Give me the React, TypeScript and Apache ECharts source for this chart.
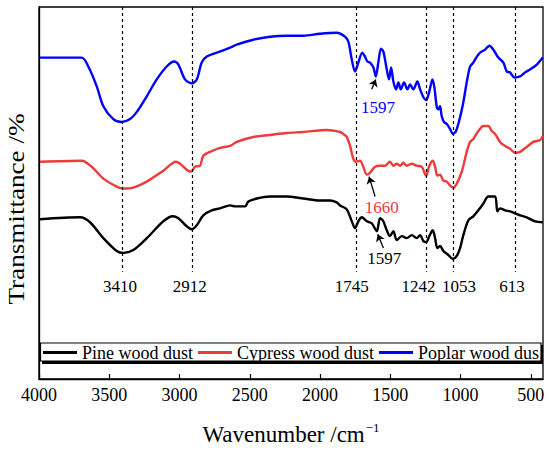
import React, { useEffect, useRef } from 'react';
import * as echarts from 'echarts';

const FONT = '"Liberation Serif", "Times New Roman", serif';

// x axis ticks (wavenumber, cm-1)
const tickValues = [4000, 3500, 3000, 2500, 2000, 1500, 1000, 500];
const seriesNames = ['Pine wood dust', 'Cypress wood dust', 'Poplar wood dust'];
const seriesColors = ['#000000', '#EE3B3B', '#0000FF'];

// Pine wood dust (black)
const pineWn = [3993, 3708, 3637, 3542, 3447, 3400, 3329, 3233, 3115, 3048, 3008, 2949, 2913, 2877, 2831, 2771, 2712, 2640, 2605, 2534, 2510, 2450, 2356, 2237, 2119, 2000, 1929, 1881, 1857, 1810, 1774, 1751, 1727, 1703, 1667, 1632, 1596, 1573, 1553, 1525, 1502, 1478, 1454, 1418, 1383, 1347, 1312, 1288, 1264, 1245, 1222, 1198, 1181, 1165, 1146, 1122, 1087, 1055, 1027, 1003, 980, 944, 909, 873, 837, 802, 754, 738, 719, 683, 647, 612, 576, 529, 470, 415];
const pineT = [161, 163, 158, 142, 129, 127, 130, 142, 159, 164, 162, 154, 151, 155, 165, 170, 172, 175, 174, 174, 179, 182, 184, 184, 182, 180, 180, 178, 175, 171, 159, 152, 159, 163, 159, 157, 149, 162, 160, 150, 144, 149, 140, 144, 142, 145, 142, 145, 139, 138, 144, 150, 142, 132, 134, 129, 125, 121, 124, 132, 145, 160, 164, 170, 177, 184, 184, 169, 172, 170, 169, 167, 165, 163, 159, 158];

// Cypress wood dust (red)
const cypressWn = [3993, 3696, 3625, 3542, 3447, 3400, 3329, 3233, 3115, 3025, 2996, 2949, 2918, 2890, 2854, 2831, 2783, 2712, 2640, 2593, 2475, 2356, 2237, 2119, 1952, 1857, 1834, 1810, 1786, 1763, 1744, 1715, 1692, 1667, 1644, 1608, 1573, 1537, 1502, 1478, 1454, 1430, 1407, 1383, 1347, 1312, 1276, 1245, 1222, 1198, 1181, 1165, 1146, 1122, 1098, 1074, 1051, 1027, 991, 956, 932, 909, 873, 837, 802, 778, 754, 719, 683, 647, 612, 576, 529, 482, 434, 415];
const cypressT = [219, 220, 214, 202, 194, 192, 193, 199, 210, 219, 217, 211, 209, 214, 215, 225, 229, 233, 235, 239, 244, 246, 248, 249, 251, 249, 247, 244, 235, 222, 219, 220, 214, 206, 208, 214, 215, 215, 219, 215, 217, 215, 218, 215, 217, 215, 214, 205, 215, 220, 214, 205, 206, 200, 199, 195, 193, 197, 209, 229, 239, 242, 250, 255, 255, 250, 247, 239, 235, 232, 228, 229, 234, 239, 241, 245];

// Poplar wood dust (blue)
const poplarWn = [3993, 3696, 3649, 3589, 3542, 3471, 3411, 3352, 3305, 3233, 3162, 3091, 3039, 3008, 2961, 2913, 2877, 2842, 2806, 2735, 2640, 2593, 2475, 2356, 2237, 2119, 2000, 1881, 1822, 1798, 1774, 1751, 1727, 1699, 1680, 1663, 1644, 1620, 1603, 1585, 1566, 1549, 1525, 1509, 1494, 1478, 1459, 1442, 1425, 1402, 1378, 1359, 1336, 1307, 1288, 1264, 1245, 1222, 1200, 1186, 1169, 1158, 1146, 1134, 1117, 1098, 1074, 1055, 1032, 1003, 980, 956, 932, 909, 884, 861, 825, 795, 766, 731, 695, 671, 647, 617, 576, 541, 505, 457, 415];
const poplarT = [324, 324, 315, 295, 275, 262, 259, 262, 269, 285, 302, 315, 320, 317, 302, 298, 302, 319, 325, 329, 334, 337, 342, 345, 346, 346, 348, 349, 345, 340, 322, 310, 319, 329, 325, 320, 319, 314, 305, 319, 333, 330, 312, 302, 314, 300, 292, 299, 292, 299, 292, 297, 292, 300, 292, 284, 281, 290, 302, 294, 274, 272, 275, 265, 259, 257, 252, 247, 250, 264, 279, 299, 315, 319, 325, 329, 332, 336, 332, 324, 319, 310, 309, 304, 305, 309, 312, 317, 324];

// Characteristic peaks (dashed guides)
const peakWn = [3410, 2912, 1745, 1242, 1053, 613];
const peakLabels = ['3410', '2912', '1745', '1242', '1053', '613'];
const peakLabelShift = [-2, -2, -4, -8, 6, -3];

// Arrow annotations: series index, label, label point, arrow tail, arrow head
const annotSeries = [2, 1, 0];
const annotText = ['1597', '1660', '1597'];
const annotTextAt = [[1587, 274], [1561, 173], [1542, 121]];
const annotTail = [[1632, 292], [1608, 184], [1549, 132]];
const annotHead = [[1603, 302], [1651, 204], [1589, 146]];

const Y_MIN = 0;
const Y_MAX = 375;
const GUIDE_END = 108;
const PEAK_LABEL_Y = 93;

const zip = (w: number[], t: number[]) => w.map((x, i) => [x, t[i]]);

export default function App() {
  const ref = useRef<HTMLDivElement>(null);

  useEffect(() => {
    document.body.style.margin = '0';
    if (!ref.current) return;
    const chart = echarts.init(ref.current, undefined, { renderer: 'svg' });

    const allData = [zip(pineWn, pineT), zip(cypressWn, cypressT), zip(poplarWn, poplarT)];

    const series = seriesNames.map((name, si) => {
      const mlData: any[] = [];
      const mpData: any[] = [];
      if (si === 0) {
        peakWn.forEach((w, i) => {
          mlData.push([
            { coord: [w, Y_MAX], symbol: 'none', lineStyle: { type: [3, 3], color: '#000', width: 1.2 } },
            { coord: [w, GUIDE_END], symbol: 'none' },
          ]);
          mpData.push({
            name: peakLabels[i],
            coord: [w, PEAK_LABEL_Y],
            label: { offset: [peakLabelShift[i], 0], color: '#000' },
          });
        });
      }
      annotSeries.forEach((s, i) => {
        if (s !== si) return;
        mlData.push([
          { coord: annotTail[i], symbol: 'none', lineStyle: { type: 'solid', color: '#000', width: 1.3 } },
          { coord: annotHead[i], symbol: 'arrow', symbolSize: 7 },
        ]);
        mpData.push({
          name: annotText[i],
          coord: annotTextAt[i],
          label: { color: seriesColors[si] },
        });
      });
      return {
        name,
        type: 'line',
        data: allData[si],
        showSymbol: false,
        symbol: 'none',
        smooth: 0.3,
        lineStyle: { color: seriesColors[si], width: 2.4 },
        itemStyle: { color: seriesColors[si] },
        markLine: {
          silent: true,
          animation: false,
          symbol: ['none', 'none'],
          label: { show: false },
          lineStyle: { color: '#000', width: 1.2 },
          emphasis: { disabled: true },
          data: mlData,
        },
        markPoint: {
          silent: true,
          animation: false,
          symbol: 'circle',
          symbolSize: 1,
          itemStyle: { color: 'rgba(0,0,0,0)' },
          label: {
            show: true,
            position: 'inside',
            fontFamily: FONT,
            fontSize: 17,
            formatter: (p: any) => p.name,
          },
          data: mpData,
        },
      };
    });

    const option: any = {
      animation: false,
      textStyle: { fontFamily: FONT, color: '#000' },
      grid: {
        left: 39,
        right: 7,
        top: 7,
        bottom: 69,
        show: true,
        borderColor: '#000',
        borderWidth: 1.3,
        backgroundColor: 'transparent',
      },
      xAxis: {
        type: 'value',
        inverse: true,
        min: 413,
        max: 4000,
        name: '{m|Wavenumber /cm}{s|\u22121}',
        nameLocation: 'middle',
        nameGap: 42,
        nameTextStyle: {
          rich: {
            m: { fontFamily: FONT, fontSize: 23, color: '#000', lineHeight: 26 },
            s: { fontFamily: FONT, fontSize: 13, color: '#000', verticalAlign: 'top', lineHeight: 26, padding: [0, 0, 12, 1] },
          },
        },
        axisLine: { show: true, lineStyle: { color: '#000', width: 1.3 } },
        axisTick: { show: true, inside: true, length: 5, customValues: tickValues, lineStyle: { color: '#000', width: 1.2 } },
        axisLabel: {
          customValues: tickValues,
          fontFamily: FONT,
          fontSize: 18,
          color: '#000',
          margin: 7,
          formatter: (v: number) => String(v),
        },
        splitLine: { show: false },
      },
      yAxis: {
        type: 'value',
        min: Y_MIN,
        max: Y_MAX,
        axisLine: { show: true, lineStyle: { color: '#000', width: 1.3 } },
        axisTick: { show: false },
        axisLabel: { show: false },
        splitLine: { show: false },
      },
      legend: {
        data: seriesNames,
        left: 43,
        top: 343,
        padding: 0,
        itemWidth: 34,
        itemHeight: 3,
        itemGap: 5,
        icon: 'rect',
        textStyle: { fontFamily: FONT, fontSize: 18, color: '#000', lineHeight: 19 },
        formatter: (n: string) => (n === 'Poplar wood dust' ? 'Poplar wood dus' : n),
        selectedMode: false,
      },
      graphic: [
        { type: 'rect', z: 1, silent: true, shape: { x: 42, y: 345, width: 501, height: 19 }, style: { fill: '#000' } },
        { type: 'rect', z: 1, silent: true, shape: { x: 40.5, y: 343, width: 500.5, height: 18 }, style: { fill: '#fff', stroke: '#000', lineWidth: 1.2 } },
        {
          type: 'text',
          x: 16,
          y: 209,
          rotation: Math.PI / 2,
          scaleX: 1.18,
          silent: true,
          style: {
            text: 'Transmittance /%',
            font: `23px ${FONT}`,
            fill: '#000',
            align: 'center',
            verticalAlign: 'middle',
            textAlign: 'center',
            textVerticalAlign: 'middle',
          },
        },
      ],
      series,
    };

    chart.setOption(option);
    return () => chart.dispose();
  }, []);

  return <div ref={ref} style={{ width: 550, height: 451 }} />;
}
